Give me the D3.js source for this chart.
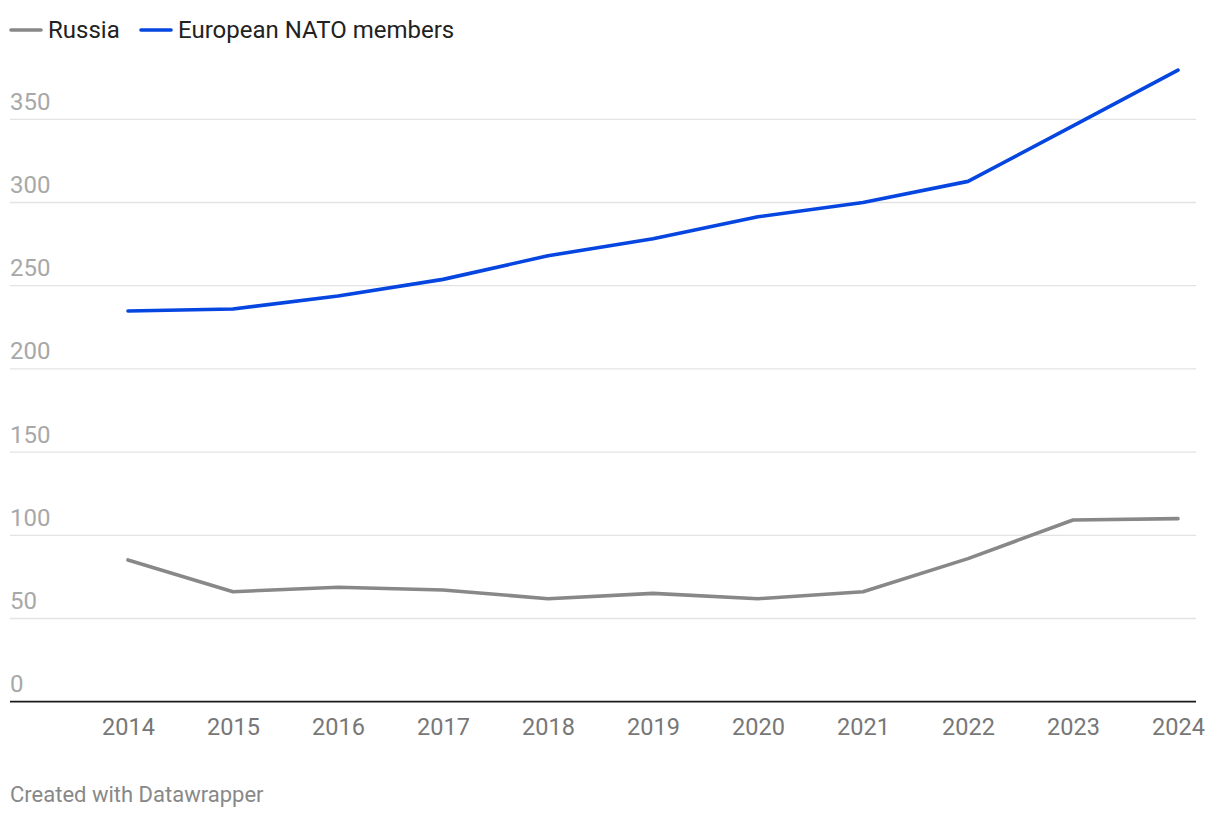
<!DOCTYPE html>
<html><head><meta charset="utf-8">
<script src="https://cdn.jsdelivr.net/npm/d3@7"></script>
<style>
html,body{margin:0;padding:0;background:#fff;}
svg{display:block;font-family:Roboto,"Noto Sans",sans-serif;}
</style></head>
<body><svg id="c" width="1220" height="818"></svg>
<script>
const years = [2014,2015,2016,2017,2018,2019,2020,2021,2022,2023,2024];
const russia = [85.2,66.1,68.8,67.1,61.9,65.1,61.9,66.1,86,109.2,110];
const nato = [234.8,236,243.8,253.8,268,278.2,291.4,300,312.7,346,379.6];
const yTicks = [0,50,100,150,200,250,300,350];
const seriesNames = ["Russia","European NATO members"];
const seriesColors = ["#888888","#0545e0"];

const svg = d3.select("#c");
const x = d3.scaleLinear().domain([2014,2024]).range([128,1178]);
const y = d3.scaleLinear().domain([0,350]).range([701.7,119.3]);

// gridlines + labels
const g = svg.append("g");
yTicks.forEach(t=>{
  if(t!==0){
    g.append("line").attr("x1",10).attr("x2",1196).attr("y1",y(t)).attr("y2",y(t))
      .attr("stroke","#e3e3e3").attr("stroke-width",1.3);
  }
  g.append("text").attr("x",10).attr("y",y(t)-9.5).text(t)
    .attr("fill","#a8a8a8").attr("font-size",24);
});
// baseline
g.append("line").attr("x1",10).attr("x2",1196).attr("y1",y(0)).attr("y2",y(0))
  .attr("stroke","#1a1a1a").attr("stroke-width",1.8);

// x axis labels
const xa = svg.append("g").attr("transform",`translate(0,${y(0)})`)
  .call(d3.axisBottom(x).tickValues(years).tickFormat(d3.format("d")).tickSize(0).tickPadding(17));
xa.select(".domain").remove();
xa.selectAll("text").attr("fill","#777").attr("font-size",23.5).attr("font-family","Roboto,sans-serif");

// lines
const line = d3.line().x((d,i)=>x(years[i])).y(d=>y(d));
[russia,nato].forEach((s,i)=>{
  svg.append("path").datum(s).attr("d",line).attr("fill","none")
    .attr("stroke",seriesColors[i]).attr("stroke-width",3.6)
    .attr("stroke-linecap","round").attr("stroke-linejoin","round");
});

// legend
const legX = [10,140];
seriesNames.forEach((n,i)=>{
  svg.append("line").attr("x1",legX[i]+1).attr("x2",legX[i]+31).attr("y1",30).attr("y2",30)
    .attr("stroke",seriesColors[i]).attr("stroke-width",3.6).attr("stroke-linecap","round");
  svg.append("text").attr("x",legX[i]+38).attr("y",38.3).text(n)
    .attr("fill","#222").attr("font-size",24);
});

// footer
svg.append("text").attr("x",10).attr("y",801.7).text("Created with Datawrapper")
  .attr("fill","#888").attr("font-size",22);
</script>
</body></html>
